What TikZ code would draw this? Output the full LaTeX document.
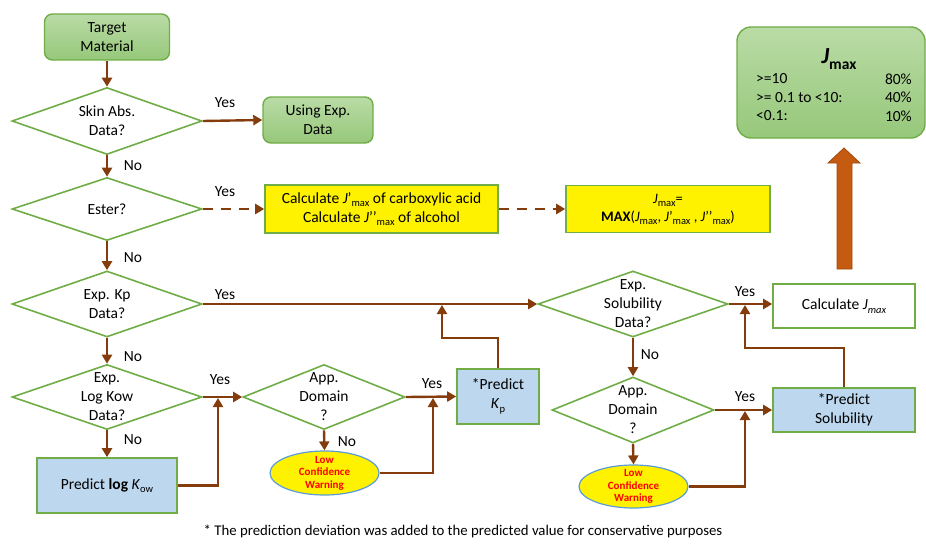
\documentclass[tikz,border=0pt]{standalone}
\usepackage{fontspec}
\setmainfont{Carlito}
\usetikzlibrary{shapes.geometric,arrows.meta}
\definecolor{brn}{HTML}{843C0C}
\definecolor{grn}{HTML}{70AD47}
\definecolor{gtop}{HTML}{BADBA6}
\definecolor{gbot}{HTML}{96C87A}
\definecolor{bfill}{HTML}{BDD7EE}
\definecolor{ebl}{HTML}{5B9BD5}
\definecolor{bigarr}{HTML}{C55A11}
\definecolor{bigarrb}{HTML}{A3490D}
\newcommand\mysub[1]{\raisebox{-0.45ex}{\fontsize{10.5}{10.5}\selectfont #1}}
\begin{document}
\begin{tikzpicture}[x=1pt,y=-1pt,
  base/.style={font=\fontsize{15.5}{19}\selectfont, align=center, inner sep=0pt},
  gbox/.style={base, rounded corners=8pt, draw=grn, line width=1.4pt, top color=gtop, bottom color=gbot},
  dia/.style={diamond, draw=grn, line width=1.6pt, fill=white, inner sep=0pt},
  dtxt/.style={font=\fontsize{15.5}{19}\selectfont, align=center},
  rbox/.style={base, draw=grn, line width=1.6pt},
  warn/.style={ellipse, draw=ebl, line width=1.2pt, fill=yellow, inner sep=0pt},
  wtxt/.style={font=\fontsize{11}{12.5}\selectfont\bfseries, text=red, align=center},
  arr/.style={draw=brn, line width=2.4pt, -{Triangle[length=9pt,width=10pt]}},
  lab/.style={font=\fontsize{15.5}{15.5}\selectfont, inner sep=0pt}]
\useasboundingbox (0,0) rectangle (926,551);

% nodes
\node[gbox, minimum width=125pt, minimum height=46pt] (tm) at (107,37) {Target\\Material};
\node[dia, minimum width=190pt, minimum height=67pt, label={[dtxt]center:{Skin Abs.\\Data?}}] (skin) at (107,121) {};
\node[gbox, minimum width=110pt, minimum height=46pt] (using) at (318,120) {Using Exp.\\Data};
\node[dia, minimum width=190pt, minimum height=63pt, label={[dtxt]center:{Ester?}}] (ester) at (107,209) {};
\node[rbox, fill=yellow, minimum width=233pt, minimum height=48pt] (calc1) at (381.5,209)
  {Calculate \textit{J}’\mysub{max} of carboxylic acid\\Calculate \textit{J}’’\mysub{max} of alcohol};
\node[rbox, fill=yellow, minimum width=204pt, minimum height=47pt, font=\fontsize{14.5}{18}\selectfont] (maxbox) at (668,209)
  {\textit{J}\mysub{max}=\\\textbf{MAX}(\textit{J}\mysub{max}, \textit{J}’\mysub{max} , \textit{J}’’\mysub{max})};
\node[dia, minimum width=190pt, minimum height=66pt, label={[dtxt]center:{Exp. Kp\\Data?}}] (kp) at (107,304) {};
\node[dia, minimum width=190pt, minimum height=66pt, label={[dtxt]center:{Exp.\\Solubility\\Data?}}] (sol) at (633,304) {};
\node[rbox, fill=white, minimum width=142pt, minimum height=44pt] (calcj) at (844,306) {Calculate \textit{J}\mysub{\textit{max}}};
\node[gbox, rounded corners=14pt, minimum width=188pt, minimum height=111pt] (jmax) at (831,82.5) {};
\node[inner sep=0pt] (jt) at (839,59) {{\fontsize{23}{23}\selectfont\bfseries\itshape J}\raisebox{-5.5pt}{\fontsize{15.5}{15.5}\selectfont\bfseries max}};
\node[lab, anchor=west] (r1l) at (756,79) {>=10};
\node[lab, anchor=west] (r2l) at (756,97.5) {>= 0.1 to <10:};
\node[lab, anchor=west] (r3l) at (756,116) {<0.1:};
\node[lab, anchor=east] (r1r) at (912,79) {80\%};
\node[lab, anchor=east] (r2r) at (912,97.5) {40\%};
\node[lab, anchor=east] (r3r) at (912,116) {10\%};
\node[dia, minimum width=190pt, minimum height=65pt, label={[dtxt]center:{Exp.\\Log Kow\\Data?}}] (kow) at (107,397) {};
\node[dia, minimum width=162pt, minimum height=65pt, label={[dtxt]center:{App.\\Domain\\?}}] (app1) at (324,397) {};
\node[rbox, fill=bfill, minimum width=82pt, minimum height=55pt] (pkp) at (498,396.5) {*Predict\\\textit{K}\mysub{p}};
\node[rbox, fill=bfill, minimum width=140pt, minimum height=55pt] (plk) at (107,485.5) {Predict \textbf{log} \textit{K}\mysub{ow}};
\node[warn, minimum width=109pt, minimum height=44pt, label={[wtxt]center:{Low\\Confidence\\Warning}}] (warn1) at (324.5,473) {};
\node[dia, minimum width=162pt, minimum height=66pt, label={[dtxt]center:{App.\\Domain\\?}}] (app2) at (633,410) {};
\node[warn, minimum width=109pt, minimum height=43pt, label={[wtxt]center:{Low\\Confidence\\Warning}}] (warn2) at (633.5,486.5) {};
\node[rbox, fill=bfill, minimum width=142pt, minimum height=44pt] (psol) at (844,410) {*Predict\\Solubility};
\node[font=\fontsize{14.8}{14.8}\selectfont, inner sep=0pt] (foot) at (463,531) {* The prediction deviation was added to the predicted value for conservative purposes};

% junction coordinates
\coordinate (j1) at (218,397);
\coordinate (j2) at (433,397);
\coordinate (j3a) at (442,338);
\coordinate (j3) at (442,304);
\coordinate (j4) at (745,410);
\coordinate (j5a) at (745,348);
\coordinate (j5) at (745,304);

% connectors
\draw[arr] (tm.south) -- (skin.north);
\draw[arr] (skin.east) -- (using.west);
\draw[arr] (skin.south) -- (ester.north);
\draw[arr, dash pattern=on 10pt off 8pt] (ester.east) -- (calc1.west);
\draw[arr, dash pattern=on 10pt off 8pt] (calc1.east) -- (maxbox.west);
\draw[arr] (ester.south) -- (kp.north);
\draw[arr] (kp.east) -- (sol.west);
\draw[arr] (sol.east) -- (calcj.west |- sol.east);
\draw[arr] (kp.south) -- (kow.north);
\draw[arr] (kow.east) -- (app1.west);
\draw[arr] (kow.south) -- (plk.north);
\draw[arr, shorten >=1pt] (plk.east) -| (j1);
\draw[arr] (app1.east) -- (pkp.west);
\draw[arr] (app1.south) -- (warn1.north);
\draw[arr, shorten >=1pt] (warn1.east) -| (j2);
\draw[arr, shorten >=1pt] (pkp.north) |- (j3a) -- (j3);
\draw[arr] (sol.south) -- (app2.north);
\draw[arr] (app2.south) -- (warn2.north);
\draw[arr] (app2.east) -- (psol.west);
\draw[arr, shorten >=1pt] (warn2.east) -| (j4);
\draw[arr, shorten >=1pt] (psol.north) |- (j5a) -- (j5);

% big arrow to Jmax box
\filldraw[fill=bigarr, draw=bigarrb, line width=0.8pt] (837,269) -- (837,163) -- (828,163) -- (844,148) -- (860,163) -- (852,163) -- (852,269) -- cycle;

% labels
\node[lab] (y1) at (225,103) {Yes};
\node[lab] (n1) at (133,166) {No};
\node[lab] (y2) at (225,192) {Yes};
\node[lab] (n2) at (133,258) {No};
\node[lab] (y3) at (225,295) {Yes};
\node[lab] (y4) at (745,292) {Yes};
\node[lab] (n3) at (133,357) {No};
\node[lab] (y5) at (220,380) {Yes};
\node[lab] (n4) at (133,440) {No};
\node[lab] (y6) at (432,384) {Yes};
\node[lab] (n5) at (347,442) {No};
\node[lab] (n6) at (650,355) {No};
\node[lab] (y7) at (745,397) {Yes};
\end{tikzpicture}
\end{document}
